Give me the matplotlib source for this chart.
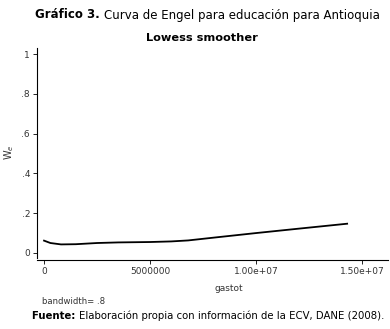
import matplotlib
matplotlib.use("Agg")
import matplotlib.pyplot as plt

# lowess curve
gastot = [0, 3e5, 8e5, 1.5e6, 2.5e6, 3.5e6, 5e6, 6e6, 6.8e6, 8e6, 1e7, 1.2e7, 1.43e7]
w_e = [0.062, 0.050, 0.043, 0.044, 0.050, 0.053, 0.055, 0.058, 0.063, 0.077, 0.100, 0.122, 0.147]

xticks = [0, 5e6, 1e7, 1.5e7]
xlabels = ["0", "5000000", "1.00e+07", "1.50e+07"]
yticks = [0, 0.2, 0.4, 0.6, 0.8, 1]
ylabels = ["0", ".2", ".4", ".6", ".8", "1"]

W, H = 390, 329
fig = plt.figure(figsize=(W / 100, H / 100), dpi=100)
ax = fig.add_axes([0.095, 0.216, 0.9, 0.638])

ax.plot(gastot, w_e, color="black", lw=1.3)

ax.set_xlim(-3.3e5, 1.623e7)
ax.set_ylim(-0.025, 1.03)
ax.set_xticks(xticks)
ax.set_xticklabels(xlabels)
ax.set_yticks(yticks)
ax.set_yticklabels(ylabels)
ax.tick_params(labelsize=6.5, length=3, width=0.6, colors="black", labelcolor="#333333", pad=2)

for s in ["top", "right"]:
    ax.spines[s].set_visible(False)
ax.spines["left"].set_linewidth(0.8)
ax.spines["bottom"].set_linewidth(0.8)
ax.spines["bottom"].set_position(("outward", 1.5))

ax.set_xlabel("gastot", fontsize=6.5, color="#333333")
ax.xaxis.set_label_coords(0.545, -0.125)
fig.text(9 / W, 1 - 152 / H, r"W$_e$", fontsize=7, color="#333333", rotation=90,
         ha="center", va="center")


def fit_line(parts, x0, x1, y, size=9):
    # parts: list of (text, weight); laid out left to right to span x0..x1 pixels
    fig.canvas.draw()
    r = fig.canvas.get_renderer()
    texts = [fig.text(0, 1 - y / H, t, fontsize=size, fontweight=wt, va="center")
             for t, wt in parts]
    total = sum(t.get_window_extent(r).width for t in texts)
    scale = (x1 - x0) / total
    x = x0
    for t in texts:
        t.set_fontsize(size * scale)
        t.set_x(x / W)
        x += t.get_window_extent(r).width
    return texts


fit_line([("Gráfico 3. ", "bold"), ("Curva de Engel para educación para Antioquia", "normal")],
         35, 378, 15)
fit_line([("Lowess smoother", "bold")], 146, 257, 38)
bw = fit_line([("bandwidth= .8", "normal")], 42, 105, 301)
bw[0].set_color("#333333")
fit_line([("Fuente: ", "bold"), ("Elaboración propia con información de la ECV, DANE (2008).", "normal")],
         32, 385, 316)

fig.savefig("out.png", dpi=100)
